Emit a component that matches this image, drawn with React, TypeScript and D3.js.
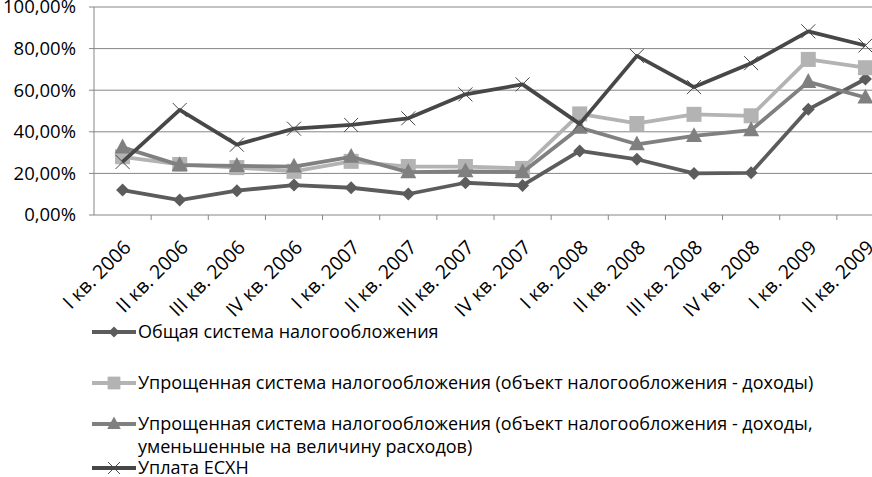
import React from "react";
import * as d3 from "d3";

const categories = [
  "I кв. 2006", "II кв. 2006", "III кв. 2006", "IV кв. 2006",
  "I кв. 2007", "II кв. 2007", "III кв. 2007", "IV кв. 2007",
  "I кв. 2008", "II кв. 2008", "III кв. 2008", "IV кв. 2008",
  "I кв. 2009", "II кв. 2009",
];

const seriesGeneral = [12.0, 7.2, 11.7, 14.4, 13.1, 10.1, 15.5, 14.2, 30.8, 26.8, 20.0, 20.3, 50.8, 65.4];
const seriesSimplifiedIncome = [28.0, 24.3, 22.8, 21.0, 25.8, 23.3, 23.3, 22.4, 48.6, 44.0, 48.4, 47.7, 74.8, 70.8];
const seriesSimplifiedNet = [32.5, 24.0, 23.6, 23.3, 28.0, 20.6, 21.0, 20.6, 42.0, 34.0, 38.0, 40.8, 64.0, 56.5];
const seriesESHN = [25.5, 50.5, 33.8, 41.5, 43.3, 46.5, 58.0, 62.8, 43.8, 76.5, 61.5, 73.0, 88.3, 81.5];

const seriesNames = [
  "Общая система налогообложения",
  "Упрощенная система налогообложения (объект налогообложения - доходы)",
  "Упрощенная система налогообложения (объект налогообложения - доходы,\nуменьшенные на величину расходов)",
  "Уплата ЕСХН",
];

const yTicks = [0, 20, 40, 60, 80, 100];

const FONT = "'Open Sans', sans-serif";

type S = { values: number[]; color: string; marker: string; width: number };

const series: S[] = [
  { values: seriesGeneral, color: "#5c5c5c", marker: "diamond", width: 3.8 },
  { values: seriesSimplifiedIncome, color: "#b3b3b3", marker: "square", width: 3.8 },
  { values: seriesSimplifiedNet, color: "#808080", marker: "triangle", width: 3.8 },
  { values: seriesESHN, color: "#474747", marker: "x", width: 3.8 },
];

function Marker({ type, x, y, color, s = 1 }: { type: string; x: number; y: number; color: string; s?: number }) {
  if (type === "diamond") {
    const r = 6.5 * s;
    return <path d={`M${x},${y - r}L${x + r},${y}L${x},${y + r}L${x - r},${y}Z`} fill={color} />;
  }
  if (type === "square") {
    const r = 7.5 * s;
    return <rect x={x - r} y={y - r} width={2 * r} height={2 * r} fill={color} />;
  }
  if (type === "triangle") {
    const r = 8 * s;
    return <path d={`M${x},${y - r * 1.1}L${x + r},${y + r * 0.75}L${x - r},${y + r * 0.75}Z`} fill={color} />;
  }
  const r = 7 * s;
  return (
    <path
      d={`M${x - r},${y - r}L${x + r},${y + r}M${x - r},${y + r}L${x + r},${y - r}`}
      stroke={color}
      strokeWidth={1}
      fill="none"
    />
  );
}

export default function App() {
  const W = 872;
  const H = 477;
  const x = d3.scaleBand<string>().domain(categories).range([94, 894]);
  const y = d3.scaleLinear().domain([0, 100]).range([215, 7]);
  const cx = (c: string) => (x(c) as number) + x.bandwidth() / 2;
  const line = d3
    .line<number>()
    .x((_, i) => cx(categories[i]))
    .y((d) => y(d));

  const fmt = (v: number) => v.toFixed(2).replace(".", ",") + "%";

  const legendRows = [332, 383, 424, 468];

  return (
    <svg
      width={W}
      height={H}
      style={{ position: "absolute", left: 0, top: 0, background: "#fff" }}
      fontFamily={FONT}
    >
      {yTicks.map((t) => (
        <g key={t}>
          <line x1={94} x2={W} y1={y(t)} y2={y(t)} stroke="#868686" strokeWidth={1} />
          <line x1={89} x2={94} y1={y(t)} y2={y(t)} stroke="#868686" strokeWidth={1} />
          <text x={76} y={y(t)} dy="0.35em" textAnchor="end" fontSize={18.5} fill="#000">
            {fmt(t)}
          </text>
        </g>
      ))}
      <line x1={94} x2={94} y1={y(100)} y2={y(0)} stroke="#868686" strokeWidth={1} />
      {categories.map((c) => (
        <g key={c}>
          <line
            x1={(x(c) as number) + x.bandwidth()}
            x2={(x(c) as number) + x.bandwidth()}
            y1={215}
            y2={220}
            stroke="#868686"
          />
          <text
            transform={`translate(${cx(c) + 0},${239}) rotate(-45)`}
            textAnchor="end"
            fontSize={19.5}
            dy="0.7em"
            fill="#000"
          >
            {c}
          </text>
        </g>
      ))}
      {series.map((s, si) => (
        <g key={si}>
          <path d={line(s.values) || ""} fill="none" stroke={s.color} strokeWidth={s.width} strokeLinejoin="round" />
          {s.values.map((v, i) => (
            <Marker key={i} type={s.marker} x={cx(categories[i])} y={y(v)} color={s.color} />
          ))}
        </g>
      ))}
      {series.map((s, si) => {
        const ly = legendRows[si];
        const lines = seriesNames[si].split("\n");
        return (
          <g key={"l" + si}>
            <line x1={92} x2={136} y1={ly} y2={ly} stroke={s.color} strokeWidth={s.width} />
            <Marker type={s.marker} x={114} y={ly} color={s.color} s={0.85} />
            {lines.map((t, k) => (
              <text key={k} x={138} y={ly + k * 23} dy="0.35em" fontSize={18} fill="#000">
                {t}
              </text>
            ))}
          </g>
        );
      })}
    </svg>
  );
}
